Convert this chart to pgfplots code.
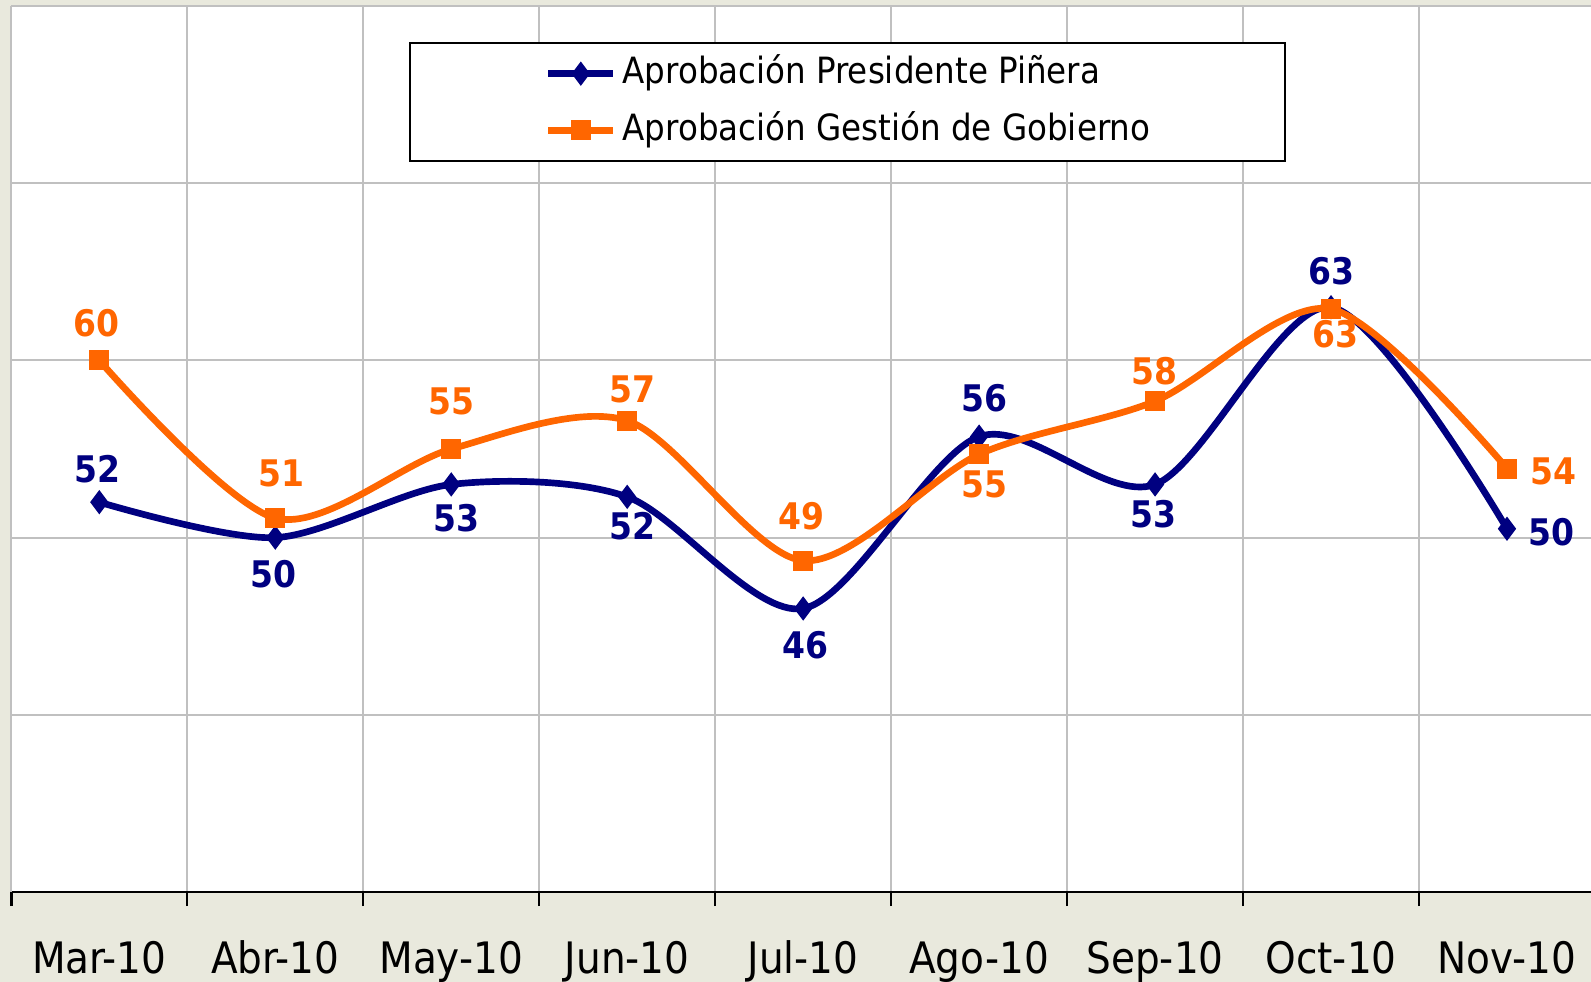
\documentclass[border=0pt]{standalone}
\usepackage{fontspec}
\setmainfont{DejaVu Sans Condensed}
\usepackage{pgfplots}
\pgfplotsset{compat=1.18}
\usepackage{pgfplotstable}

\definecolor{navyc}{RGB}{0,0,128}
\definecolor{orangec}{RGB}{255,102,0}
\definecolor{beigebg}{RGB}{233,233,221}
\definecolor{gridc}{RGB}{192,192,192}

\pgfplotstableread{
x y lab dx dy
0.5 52.0 52 -0.6 10.0
1.5 50.0 50 -0.6 -10.9
2.5 53.0 53 1.5 -10.0
3.5 52.3 52 1.5 -8.8
4.5 46.0 46 0.6 -10.9
5.5 55.7 56 1.5 11.6
6.5 53.0 53 -0.6 -8.8
7.5 63.0 63 0.0 10.9
8.5 50.5 50 13.4 -0.9
}\navytab

\pgfplotstableread{
x y lab dx dy
0.5 60.0 60 -0.9 11.2
1.5 51.1 51 1.8 13.4
2.5 55.0 55 0.0 14.3
3.5 56.6 57 1.5 9.4
4.5 48.7 49 -0.6 13.4
5.5 54.7 55 1.5 -9.1
6.5 57.7 58 -0.3 9.1
7.5 62.9 63 1.2 -7.6
8.5 53.9 54 14.0 -0.9
}\orangetab

\begin{document}
\begin{tikzpicture}
\fill[beigebg] (-3.4pt,-27pt) rectangle (473.9pt,267.6pt);
\begin{axis}[
  at={(0,0)}, anchor=south west,
  scale only axis, width=475.1pt, height=265.8pt,
  xmin=0, xmax=9, ymin=30, ymax=80,
  axis background/.style={fill=white},
  axis x line*=bottom, axis y line*=left,
  x axis line style={-, draw=black, line width=0.7pt},
  y axis line style={-, draw=gridc, line width=0.6pt},
  xtick={0.5,1.5,...,8.5},
  xticklabels={Mar-10,Abr-10,May-10,Jun-10,Jul-10,Ago-10,Sep-10,Oct-10,Nov-10},
  minor xtick={0,1,...,9},
  ytick={30,40,...,80}, yticklabels={},
  major tick length=0pt, minor tick length=4.2pt, tick align=outside,
  every tick/.style={black, line width=0.7pt},
  xminorgrids=true, xmajorgrids=false, ymajorgrids=true,
  grid style={draw=gridc, line width=0.6pt},
  minor grid style={draw=gridc, line width=0.6pt},
  xticklabel style={anchor=base, yshift=-24.6pt, font=\fontsize{13}{15}\selectfont, text=black},
  legend style={at={(0.2511,0.9594)}, anchor=north west, draw=black, line width=0.6pt,
    fill=white, inner xsep=40.5pt, inner ysep=3.7pt, row sep=6pt,
    nodes={inner sep=0pt, text height=8.5pt, text depth=2.5pt},
    font=\fontsize{10.85}{12}\selectfont,
    /tikz/every odd column/.style={column sep=1.8pt}},
  legend cell align=left,
  legend image code/.code={\draw[mark repeat=2,mark phase=2,#1] plot coordinates {(0pt,0pt) (9.75pt,0pt) (19.5pt,0pt)};},
]
\addplot[navyc, line width=2pt, smooth, tension=0.5, mark=diamond*, mark size=2pt, mark options={solid}] table[x=x,y=y]{\navytab};
\addlegendentry{Aprobación Presidente Piñera}
\addplot[orangec, line width=2pt, smooth, tension=0.5, mark=square*, mark size=2pt, mark options={solid}] table[x=x,y=y]{\orangetab};
\addlegendentry{Aprobación Gestión de Gobierno}

\addplot[forget plot, draw=none, mark=none, nodes near coords, point meta=explicit symbolic,
  visualization depends on={\thisrow{dx}\as\dx},
  visualization depends on={\thisrow{dy}\as\dy},
  nodes near coords style={anchor=center, inner sep=0pt, xshift=\dx pt, yshift=\dy pt, text=navyc, font=\bfseries\fontsize{11}{13}\selectfont}]
  table[x=x,y=y,meta=lab]{\navytab};
\addplot[forget plot, draw=none, mark=none, nodes near coords, point meta=explicit symbolic,
  visualization depends on={\thisrow{dx}\as\dx},
  visualization depends on={\thisrow{dy}\as\dy},
  nodes near coords style={anchor=center, inner sep=0pt, xshift=\dx pt, yshift=\dy pt, text=orangec, font=\bfseries\fontsize{11}{13}\selectfont}]
  table[x=x,y=y,meta=lab]{\orangetab};
\end{axis}
\pgfresetboundingbox
\path[use as bounding box] (-3.4pt,-27pt) rectangle (473.9pt,267.6pt);
\end{tikzpicture}
\end{document}
